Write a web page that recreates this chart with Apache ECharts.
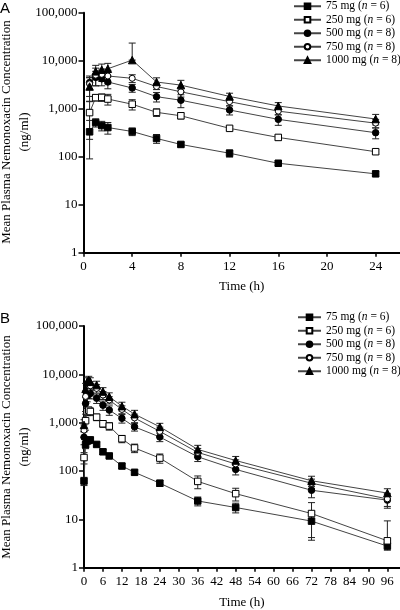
<!DOCTYPE html>
<html>
<head>
<meta charset="utf-8">
<script src="https://cdn.jsdelivr.net/npm/echarts@6/dist/echarts.min.js"></script>
<style>html,body{margin:0;padding:0;background:#fff}#c{width:400px;height:610px}</style>
</head>
<body>
<div id="c"></div>
<script>
// ---------- DATA ----------
const doseNames = ['75 mg', '250 mg', '500 mg', '750 mg', '1000 mg'];
const doseN = [6, 6, 8, 8, 8];
const yTickValues = [1, 10, 100, 1000, 10000, 100000];
const xTicksA = [0, 4, 8, 12, 16, 20, 24];
const xTicksB = [0, 6, 12, 18, 24, 30, 36, 42, 48, 54, 60, 66, 72, 78, 84, 90, 96];

// Panel A
const timeA = [0.5, 1, 1.5, 2, 4, 6, 8, 12, 16, 24];
const meanA_75   = [330, 515, 445, 405, 335, 240, 180, 118, 73, 44];
const sdA_75     = [240, 100, 100, 110, 60, 50, 20, 20, 8, 5];
const meanA_250  = [830, 1700, 1720, 1590, 1240, 840, 712, 390, 252, 127];
const sdA_250    = [600, 250, 300, 400, 300, 150, 100, 40, 30, 15];
const meanA_500  = [3500, 4500, 4200, 3600, 2700, 1780, 1500, 940, 600, 316];
const sdA_500    = [1000, 1500, 1200, 1000, 500, 400, 450, 200, 150, 80];
const meanA_750  = [3300, 5000, 5200, 4800, 4300, 2900, 2250, 1400, 890, 500];
const sdA_750    = [1500, 2000, 1500, 1500, 800, 400, 500, 250, 150, 100];
const meanA_1000 = [2900, 6000, 6500, 6800, 10300, 3600, 3100, 1800, 1140, 610];
const sdA_1000   = [1500, 2000, 2000, 2000, 13000, 800, 800, 300, 200, 150];

// Panel B
const timeB = [0, 0.5, 1, 1.5, 2, 4, 6, 8, 12, 16, 24, 36, 48, 72, 96];
const meanB_75   = [62, 350, 420, 430, 440, 355, 250, 205, 127, 94, 56, 24, 17.6, 9.2, 2.8];
const sdB_75     = [12, 60, 60, 60, 60, 40, 30, 20, 15, 10, 8, 5, 4, 5.5, 0.5];
const meanB_250  = [190, 1100, 1700, 1800, 1700, 1300, 950, 850, 465, 300, 185, 61, 34, 13.2, 3.6];
const sdB_250    = [50, 400, 300, 300, 300, 200, 150, 150, 80, 60, 40, 18, 10, 9, 5.7];
const meanB_500  = [500, 2500, 3600, 4200, 4000, 3200, 2300, 1820, 1230, 820, 505, 197, 108, 40, 25];
const sdB_500    = [150, 800, 900, 1000, 900, 700, 500, 400, 250, 150, 100, 40, 25, 12, 8];
const meanB_750  = [700, 3500, 5000, 5800, 5800, 5100, 3720, 2940, 1880, 1250, 660, 243, 140, 56, 26.5];
const sdB_750    = [200, 1000, 1200, 1200, 1200, 1000, 700, 500, 350, 250, 150, 50, 30, 12, 8];
const meanB_1000 = [900, 5000, 7000, 7600, 7000, 6000, 4400, 3440, 2200, 1500, 820, 280, 165, 63, 35];
const sdB_1000   = [250, 1500, 1500, 1500, 1500, 1200, 900, 700, 450, 300, 150, 60, 35, 15, 8];

// ---------- BUILD ----------
const FONT = 'Liberation Serif';
const minorTicks = [];
[1, 10, 100, 1000, 10000].forEach(d => { for (let k = 2; k <= 9; k++) minorTicks.push(d * k); });

const marker = [
  { symbol: 'rect', size: 6.5, fill: '#000' },
  { symbol: 'rect', size: 6.5, fill: '#fff' },
  { symbol: 'circle', size: 6.5, fill: '#000' },
  { symbol: 'circle', size: 6, fill: '#fff' },
  { symbol: 'triangle', size: 7.5, fill: '#000' }
];

const fmtNum = v => String(Math.round(v)).replace(/\B(?=(\d{3})+(?!\d))/g, ',');

function xAxisCfg(gridIndex, max, ticks, nameGap) {
  return {
    type: 'value', gridIndex, min: 0, max,
    axisLine: { lineStyle: { color: '#000', width: 2 } },
    axisTick: { length: 4, lineStyle: { color: '#000', width: 1.5 }, customValues: ticks },
    axisLabel: { color: '#000', fontFamily: FONT, fontSize: 13, margin: 7, customValues: ticks },
    splitLine: { show: false },
    name: 'Time (h)', nameLocation: 'middle', nameGap,
    nameTextStyle: { color: '#000', fontFamily: FONT, fontSize: 13 }
  };
}
function yAxisCfg(gridIndex) {
  return {
    type: 'log', logBase: 10, gridIndex, min: 1, max: 100000,
    axisLine: { lineStyle: { color: '#000', width: 2 } },
    axisTick: { length: 5, lineStyle: { color: '#000', width: 1.5 }, customValues: yTickValues },
    axisLabel: { color: '#000', fontFamily: FONT, fontSize: 13, margin: 6, customValues: yTickValues, formatter: fmtNum },
    splitLine: { show: false }
  };
}
function yMinorCfg(gridIndex) {
  return {
    type: 'log', logBase: 10, gridIndex, min: 1, max: 100000,
    axisLine: { show: false },
    axisTick: { length: 3, lineStyle: { color: '#000', width: 1.5 }, customValues: minorTicks },
    axisLabel: { show: false },
    splitLine: { show: false }
  };
}

function lineSeries(name, idx, xi, yi, times, means) {
  const m = marker[idx];
  return {
    type: 'line', name, xAxisIndex: xi, yAxisIndex: yi,
    data: times.map((t, i) => [t, means[i]]),
    symbol: m.symbol, symbolSize: m.size, showAllSymbol: true,
    itemStyle: { color: m.fill, borderColor: '#000', borderWidth: 1, opacity: 1 },
    lineStyle: { color: '#444', width: 1 },
    z: 4, animation: false
  };
}
function errSeries(name, xi, yi, times, means, sds) {
  return {
    type: 'custom', name, xAxisIndex: xi, yAxisIndex: yi, z: 3, animation: false,
    data: times.map((t, i) => {
      const lo = means[i] - sds[i];
      return [t, lo > 0 ? lo : means[i], means[i] + sds[i]];
    }),
    encode: { x: 0, y: [1, 2] },
    renderItem: (params, api) => {
      const x = api.value(0);
      const lo = api.coord([x, api.value(1)]);
      const hi = api.coord([x, api.value(2)]);
      const w = 3.5;
      const st = { stroke: '#222', lineWidth: 1 };
      return {
        type: 'group', children: [
          { type: 'line', shape: { x1: lo[0], y1: lo[1], x2: hi[0], y2: hi[1] }, style: st },
          { type: 'line', shape: { x1: lo[0] - w, y1: lo[1], x2: lo[0] + w, y2: lo[1] }, style: st },
          { type: 'line', shape: { x1: hi[0] - w, y1: hi[1], x2: hi[0] + w, y2: hi[1] }, style: st }
        ]
      };
    }
  };
}

const panelA = [meanA_75, meanA_250, meanA_500, meanA_750, meanA_1000];
const panelAsd = [sdA_75, sdA_250, sdA_500, sdA_750, sdA_1000];
const panelB = [meanB_75, meanB_250, meanB_500, meanB_750, meanB_1000];
const panelBsd = [sdB_75, sdB_250, sdB_500, sdB_750, sdB_1000];

const series = [];
doseNames.forEach((n, i) => {
  series.push(errSeries('errA' + i, 0, 0, timeA, panelA[i], panelAsd[i]));
  series.push(errSeries('errB' + i, 1, 2, timeB, panelB[i], panelBsd[i]));
});
doseNames.forEach((n, i) => {
  series.push(lineSeries(n, i, 0, 0, timeA, panelA[i]));
  series.push(lineSeries(n, i, 1, 2, timeB, panelB[i]));
});

function legendCfg(left, top, itemWidth) {
  return {
    data: doseNames, orient: 'vertical', left, top, selectedMode: false,
    itemWidth, itemHeight: 7, itemGap: 1, padding: 0,
    textStyle: { color: '#000', fontFamily: FONT, fontSize: 11.5, lineHeight: 12.5,
      rich: { i: { fontStyle: 'italic', fontFamily: FONT, fontSize: 11.5, color: '#000' } } },
    formatter: name => `${name} ({i|n} = ${doseN[doseNames.indexOf(name)]})`
  };
}

const yTitle = 'Mean Plasma Nemonoxacin Concentration\n(ng/ml)';
const option = {
  backgroundColor: '#fff',
  animation: false,
  grid: [
    { left: 83.5, top: 12.7, width: 316.5, height: 240 },
    { left: 84, top: 326, width: 316, height: 241.7 }
  ],
  xAxis: [xAxisCfg(0, 26, xTicksA, 27), xAxisCfg(1, 100, xTicksB, 28)],
  yAxis: [yAxisCfg(0), yMinorCfg(0), yAxisCfg(1), yMinorCfg(1)],
  legend: [legendCfg(293, 0, 27), legendCfg(297, 311, 23)],
  graphic: [
    { type: 'text', x: 0, y: 1, style: { text: 'A', font: '15px "Liberation Sans"', fill: '#000' } },
    { type: 'text', x: 0, y: 311, style: { text: 'B', font: '15px "Liberation Sans"', fill: '#000' } },
    { type: 'text', x: 16, y: 132, rotation: Math.PI / 2,
      style: { text: yTitle, font: '13px "Liberation Serif"', fill: '#000', align: 'center', verticalAlign: 'middle', lineHeight: 18 } },
    { type: 'text', x: 16, y: 447, rotation: Math.PI / 2,
      style: { text: yTitle, font: '13px "Liberation Serif"', fill: '#000', align: 'center', verticalAlign: 'middle', lineHeight: 18 } }
  ],
  series
};
const chart = echarts.init(document.getElementById('c'), null, { renderer: 'canvas' });
chart.setOption(option);
</script>
</body>
</html>
